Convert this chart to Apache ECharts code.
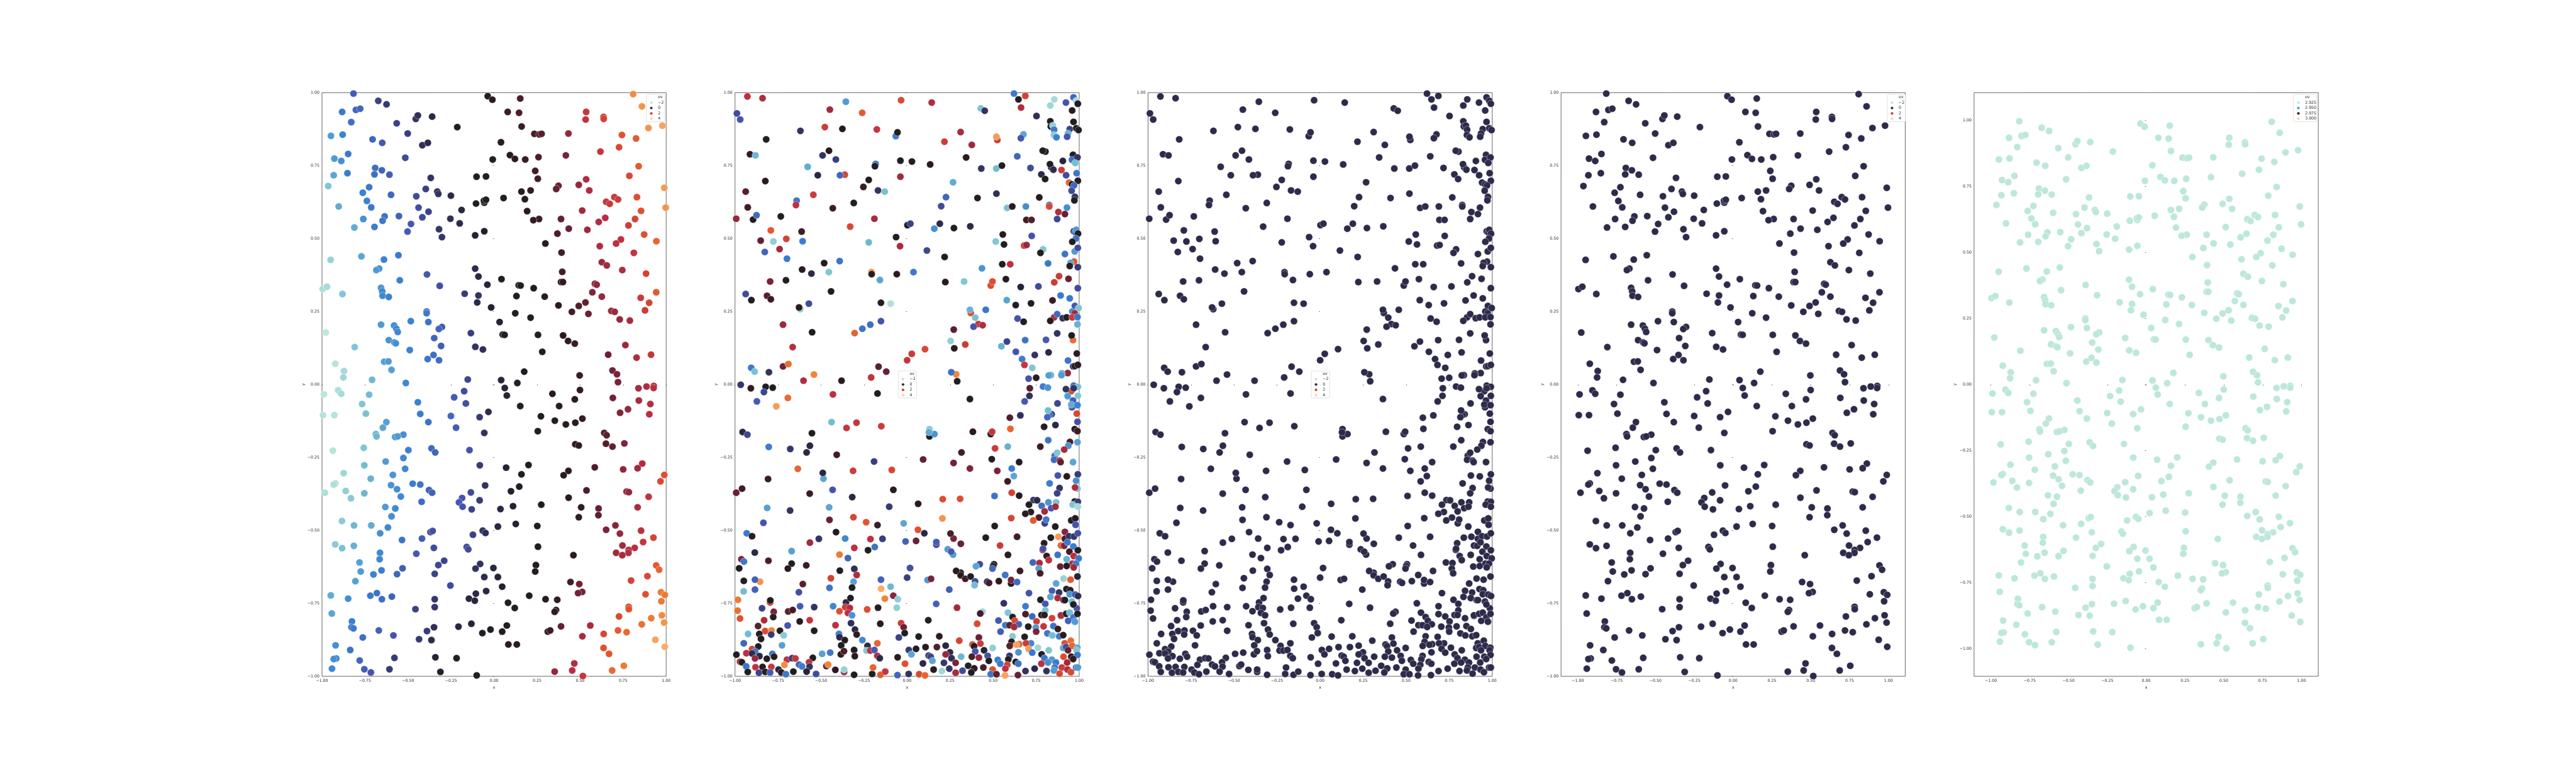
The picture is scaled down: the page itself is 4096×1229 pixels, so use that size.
<!DOCTYPE html>
<html><head><meta charset="utf-8">
<style>html,body{margin:0;padding:0;background:#fff}#main{width:4096px;height:1229px}</style>
<script src="https://cdn.jsdelivr.net/npm/echarts@6/dist/echarts.min.js"></script>
</head><body><div id="main"></div>
<script>
// [x, y, ov] read from the first, fourth and fifth panels
const pointsA = [
[-.817,.997,-.6],[-.673,.972,-.3],[-.625,.96,-.2],[-.883,.934,-.9],[-.803,.941,-.7],[-.778,.945,-.7],[-.83,.899,-.8],[-.566,.895,-.3],[-.455,.91,-.1],[-.443,.922,-.05],[-.36,.918,.1],[-.214,.882,.5],[-.948,.852,-1.2],[-.88,.856,-1],[-.706,.84,-.7],[-.65,.828,-.55],[-.502,.86,-.25],[-.417,.82,-.05],[-.385,.828,0],[-.848,.79,-.9],[-.928,.774,-1.2],[-.888,.766,-1.1],[-.516,.777,-.4],[-.691,.742,-.8],[-.652,.734,-.7],[-.852,.724,-.95],[-.932,.717,-1.3],[-.695,.72,-.8],[-.608,.719,-.6],[-.368,.708,-.1],[-.964,.68,-1.6],[-.726,.676,-.9],[-.763,.657,-1],[-.397,.67,-.25],[-.33,.661,-.05],[-.324,.653,-.1],[-.599,.65,-.7],[-.452,.645,-.4],[-.251,.647,.05],[-.739,.629,-1],[-.714,.607,-.9],[-.903,.61,-1.35],[-.439,.606,-.45],[-.381,.592,-.3],[-.189,.598,.15],[-.636,.576,-.85],[-.553,.577,-.65],[-.417,.573,-.4],[-.254,.568,-.05],[-.76,.567,-1.1],[-.648,.561,-.9],[-.2,.552,.05],[-.483,.55,-.55],[-.812,.538,-1.35],[-.695,.54,-.95],[-.503,.524,-.6],[-.32,.532,-.15],[-.303,.505,-.15],[-.556,.443,-.9],[-.771,.439,-1.3],[-.95,.427,-1.75],[-.64,.428,-1],[-.668,.397,-1.1],[-.684,.392,-1.2],[-.39,.377,-.55],[-.548,.357,-1],[-.996,.327,-1.9],[-.971,.335,-1.85],[-.657,.331,-1.15],[-.316,.338,-.45],[-.65,.319,-1.05],[-.648,.304,-1.05],[-.612,.3,-1],[-.881,.31,-1.6],[-.171,.311,-.2],[-.091,.305,-.1],[-.11,.397,0],[-.091,.37,.1],[-.039,.342,.2],
[-.037,.988,.9],[-.01,.976,.9],[.152,.98,1.2],[.079,.934,1.1],[.145,.931,1.2],[.16,.884,1.1],[.234,.859,1.2],[.263,.857,1.25],[.276,.859,1.3],[.432,.86,1.7],[.04,.83,.8],[.092,.786,.9],[.121,.773,.95],[.181,.771,1.1],[.258,.779,1.2],[.417,.785,1.5],[-.008,.771,.75],[-.102,.712,.5],[-.047,.713,.6],[.239,.732,1.15],[.254,.705,1.15],[.535,.934,2.1],[.532,.908,2.05],[.636,.917,2.3],[.637,.91,2.3],[.808,.995,3.1],[.859,.953,3.2],[.897,.879,3.2],[.978,.887,3.4],[.743,.855,2.5],[.825,.843,2.6],[.726,.813,2.4],[.618,.798,2.1],[.84,.748,2.6],[.786,.715,2.4],[.535,.703,1.9],[.492,.684,1.7],[.374,.681,1.4],[.361,.67,1.35],[.553,.665,1.9],[.159,.661,.95],[.212,.665,1.05],[.179,.635,.9],[.989,.674,3.3],[.83,.642,2.45],[.699,.642,2.15],[.72,.634,2.2],[.651,.626,2.1],[.672,.619,2.15],[.997,.606,3.2],[-.105,.62,.45],[-.057,.623,.5],[-.059,.63,.5],[-.047,.633,.5],[.055,.639,.65],[.192,.594,.95],[.512,.596,1.8],[.854,.595,2.5],[.389,.567,1.35],[.261,.567,1.1],[.228,.563,1.05],[.819,.567,2.3],[.646,.571,1.95],[.608,.557,1.9],[.781,.545,2.2],[-.057,.525,.4],[.434,.534,1.4],[.542,.53,1.75],[.368,.517,1.2],[-.11,.511,.3],[.872,.514,2.5],[.737,.497,2],[.709,.483,2],[.943,.491,2.7],[.298,.483,1],[.614,.474,1.9],[.392,.452,1.15],[.812,.451,2.05],[.626,.419,1.75],[.655,.408,1.8],[.745,.392,1.9],[.396,.386,1.15],[.883,.38,2.3],[.043,.361,.55],[.389,.351,1.05],[.4,.351,1.05],[.143,.34,.7],[.154,.339,.7],[.23,.33,.8],[.586,.345,1.6],[.596,.342,1.65],[.942,.316,2.6],[.571,.316,1.55],[.294,.301,.85],[.13,.303,.65],[.626,.301,1.7],[.852,.297,2.15],[-.098,.281,.05],[.531,.281,1.35],[.901,.28,2.3],[-.017,.264,.35],[.374,.271,1],[.492,.269,1.25],[.877,.254,2.2],[.681,.252,1.75],[.701,.249,1.75],[.452,.249,1.15],[.548,.242,1.4],[.123,.244,.6],[.212,.229,.75],[.73,.223,1.7],[.789,.219,1.85],[.032,.214,.3],[-.135,.176,-.25],[.05,.171,.4],[.061,.17,.45],[.255,.17,.75],[.401,.168,1],[.43,.149,1.05],[.469,.14,1.1],[.763,.135,1.75],[-.109,.129,-.1],[-.065,.12,-.05],[.28,.112,.75],[.663,.102,1.4],[.912,.102,2.1],[.828,.092,1.9],[.175,.044,.55],[.688,.048,1.45],[.714,.035,1.5],[.497,.031,1.1],[-.153,.017,-.35],[.041,.015,.2],[.135,.005,.45],[.72,.008,1.5],[.928,-.005,1.95],[.927,-.012,1.95],[.886,-.007,1.9],[.839,-.013,1.85],[.499,-.019,1.05],[-.174,-.023,-.4],[.062,-.012,.25],[.074,-.038,.3],[.339,-.032,.9],[-.232,-.044,-.6],[-.164,-.065,-.45],[.69,-.046,1.45],[.469,-.051,1],[.841,-.055,1.85],[.908,-.067,1.95],[.378,-.074,.9],[.152,-.074,.45],[.778,-.085,1.7],[.732,-.097,1.55],[-.033,-.094,0],[-.084,-.112,-.2],[-.251,-.108,-.7],[.902,-.102,1.95],[.272,-.109,.6],[.353,-.124,.8],[.513,-.117,1.05],[.417,-.137,.9],[.472,-.131,1],[-.221,-.148,-.6],[.254,-.16,.6],[-.057,-.166,-.1],[.64,-.166,1.3],[.654,-.174,1.3],[.65,-.203,1.25],[.688,-.213,1.35],[.757,-.202,1.55],[.472,-.205,1],[.492,-.209,1.05],[-.143,-.225,-.5],[.2,-.276,.65],[-.083,-.277,-.2],[.07,-.285,.3],[.861,-.271,1.9],[.585,-.284,1.2],[.75,-.291,1.65],[.834,-.287,1.8],[.432,-.296,.95],[.404,-.311,.95],[.989,-.31,2.5],[.159,-.308,.5],[.967,-.332,2.4],[-.052,-.346,-.1],[.146,-.35,.45],[-.135,-.37,-.4],[.098,-.366,.35],[.537,-.363,1.2],[.77,-.367,1.7],[.783,-.369,1.7],[.898,-.385,2.05],[.433,-.388,.9],[-.186,-.389,-.5],[-.084,-.397,-.2],[-.204,-.404,-.55],[-.183,-.419,-.5],[.11,-.417,.35],[.274,-.412,.7],[-.13,-.428,-.3],[.037,-.427,.15],[.506,-.421,1.05],[.607,-.425,1.35],[.834,-.421,1.85],[.492,-.455,1.05],[.606,-.448,1.3],[.126,-.478,.35],[.251,-.485,.55],[.022,-.487,.15],[.705,-.483,1.6],[-.066,-.501,-.1],[-.05,-.509,-.05],[.854,-.501,2],[.651,-.498,1.5],[.731,-.511,1.7],[-.123,-.515,-.3],[.866,-.54,2.1],[.926,-.525,2.3],[.255,-.556,.55],[.817,-.56,1.95],[.746,-.552,1.8],[-.159,-.557,-.4],[-.15,-.565,-.4],[.782,-.567,1.95],[.781,-.577,1.95],[.709,-.577,1.8],[.745,-.585,1.85],[.461,-.585,.95],[.942,-.62,2.6],[.959,-.635,2.7],[.243,-.619,.6],[-.081,-.615,-.1],[-.108,-.631,-.1],[-.004,-.629,.15],[.239,-.641,.6],[-.057,-.66,0],[.022,-.66,.25],[.891,-.657,2.4],[.495,-.684,1.45],[.444,-.677,1.15],[.796,-.672,2.3],[.047,-.693,.35],[-.254,-.689,-.4],[-.046,-.708,.1],[-.106,-.717,.05],[.88,-.719,2.5],[.512,-.711,1.45],[.488,-.715,1.45],[.97,-.712,2.9],[.992,-.721,2.9],[.204,-.724,.8],[.299,-.736,.95],[.367,-.738,1.05],[-.146,-.734,.15],[-.112,-.741,.15],[.081,-.748,.5],[.972,-.743,2.9],[-.345,-.736,-.15],[.12,-.766,.6],[.782,-.762,2.5],[.783,-.77,2.5],[-.345,-.763,-.15],[-.457,-.77,-.3],[.36,-.773,1.05],[.352,-.779,1.05],[.975,-.791,3.1],[.726,-.795,2.4],[.913,-.801,2.9],[.988,-.816,3.2],[-.132,-.82,.25],[.074,-.826,.7],[.858,-.822,2.8],[.559,-.826,1.85],[.389,-.829,1.35],[-.349,-.832,-.05],[-.207,-.83,.15],[.312,-.847,1.1],[.326,-.843,1.1],[.047,-.847,.7],[-.021,-.84,.55],[-.068,-.852,.45],[.72,-.843,2.6],[.77,-.849,2.75],[.637,-.855,2.35],[.513,-.863,1.85],[.937,-.875,3.4],[-.436,-.873,-.2],[-.364,-.876,0],[-.39,-.845,-.2],[-.585,-.86,-.5],[.083,-.891,.85],[.132,-.891,.95],[.636,-.903,2.5],[.668,-.923,2.55],[.992,-.899,3.5],[-.836,-.91,-.85],[-.341,-.935,.3],[-.218,-.938,.45],[-.579,-.937,-.2],[.466,-.956,1.9],[.454,-.98,1.95],[.352,-.984,1.7],[.686,-.98,2.75],[.754,-.964,2.9],[.516,-.999,2.1],[-.101,-.997,.7],[-.312,-.985,.4],[-.608,-.976,-.2],
[-.392,.25,-.9],[-.392,.244,-.9],[-.382,.214,-.85],[-.484,.217,-1],[-.657,.205,-1.2],[-.581,.202,-1.1],[-.568,.191,-1.05],[-.56,.18,-1.05],[-.303,.197,-.55],[-.321,.19,-.7],[-.348,.159,-.7],[-.978,.178,-2],[-.612,.152,-1.15],[-.579,.144,-1.1],[-.571,.141,-1.1],[-.81,.128,-1.6],[-.308,.132,-.6],[-.49,.118,-1],[-.352,.101,-.8],[-.386,.087,-.85],[-.32,.083,-.75],[-.639,.078,-1.25],[-.614,.079,-1.2],[-.923,.071,-1.95],[-.872,.046,-1.85],[-.596,.05,-1.25],[-.876,.024,-1.8],[-.709,.016,-1.45],[-.513,.005,-1.05],[-.906,-.02,-1.9],[-.989,-.034,-2],[-.888,-.032,-1.85],[-.726,-.035,-1.5],[-.443,-.061,-1],[-.767,-.067,-1.6],[-.994,-.105,-1.95],[-.928,-.105,-1.95],[-.745,-.1,-1.55],[-.429,-.101,-.95],[-.382,-.129,-.85],[-.626,-.129,-1.25],[-.646,-.148,-1.3],[-.687,-.17,-1.45],[-.683,-.178,-1.45],[-.527,-.172,-1.1],[-.575,-.18,-1.2],[-.56,-.178,-1.2],[-.757,-.217,-1.6],[-.498,-.225,-1],[-.937,-.227,-1.95],[-.364,-.219,-.75],[-.342,-.233,-.7],[-.527,-.252,-1.05],[-.63,-.264,-1.2],[-.754,-.277,-1.5],[-.517,-.289,-1.05],[-.874,-.304,-1.8],[-.588,-.31,-1.15],[-.717,-.323,-1.4],[-.923,-.339,-1.9],[-.932,-.343,-1.9],[-.473,-.34,-.95],[-.429,-.343,-.85],[-.599,-.345,-1.15],[-.564,-.359,-1.1],[-.378,-.362,-.65],[-.36,-.371,-.65],[-.983,-.371,-1.9],[-.862,-.365,-1.7],[-.754,-.373,-1.45],[-.542,-.384,-1.05],[-.832,-.39,-1.65],[-.421,-.402,-.75],[-.632,-.42,-1.2],[-.574,-.425,-1.05],[-.596,-.452,-1.1],[-.884,-.468,-1.65],[-.814,-.483,-1.45],[-.714,-.483,-1.35],[-.617,-.49,-1.05],[-.662,-.51,-1.1],[-.37,-.506,-.5],[-.357,-.502,-.45],[-.535,-.533,-.85],[-.419,-.528,-.6],[-.923,-.548,-1.65],[-.815,-.553,-1.4],[-.883,-.561,-1.55],[-.35,-.56,-.4],[-.663,-.577,-1.05],[-.452,-.58,-.55],[-.665,-.599,-1.05],[-.782,-.61,-1.25],[-.29,-.604,-.3],[-.324,-.619,-.35],[-.654,-.637,-.95],[-.775,-.641,-1.2],[-.532,-.63,-.6],[-.564,-.65,-.7],[-.345,-.649,-.3],[-.701,-.651,-1],[-.806,-.674,-1.25],[-.949,-.723,-1.35],[-.681,-.715,-.85],[-.719,-.724,-.9],[-.594,-.727,-.65],[-.652,-.736,-.8],[-.848,-.734,-1.1],[-.943,-.785,-1.3],[-.826,-.812,-.95],[-.829,-.832,-.95],[-.817,-.836,-.9],[-.67,-.843,-.65],[-.763,-.867,-.8],[-.921,-.894,-1.1],[-.917,-.939,-1.05],[-.932,-.941,-1.1],[-.781,-.946,-.7],[-.942,-.974,-1.05],[-.754,-.976,-.6],[-.716,-.987,-.5]
];
// [x, y, ov]
const pointsB = [
[.621,.997,-.9],[.687,.989,2.3],[.647,.977,.7],[.662,.949,1.9],[-.928,.987,2],[-.84,.981,1.9],[-.356,.969,-1.2],[-.035,.974,2.4],[.143,.966,1.9],[-.989,.929,-.4],[-.97,.908,-.5],[-.449,.942,1.8],[-.261,.931,2.6],[.428,.946,-1.6],[.451,.938,-.1],[.855,.977,-1.85],[.832,.956,-1.8],[.967,.984,-.7],[.983,.972,-1.85],[.992,.962,.6],[.923,.966,-.5],[.959,.939,.9],[.752,.92,-.05],[.832,.902,.5],[.967,.9,.5],[.835,.884,.5],[.847,.887,-1.7],[.854,.873,-.9],[.853,.855,-1.65],[.868,.847,-1],[.945,.875,-.3],[.983,.878,.5],[.996,.872,.7],[.676,.857,-1.3],[.661,.844,-.55],[.935,.86,-1.4],[.93,.849,-.5],[-.62,.869,-.1],[-.478,.882,2.2],[-.376,.876,.8],[-.176,.874,2.1],[-.066,.851,-.95],[-.056,.864,.6],[.311,.865,1.85],[-.819,.84,.6],[.217,.832,2.2],[.376,.821,1.75],[.524,.838,2.2],[.519,.849,3.3],[-.913,.789,1.05],[-.881,.785,-1.45],[-.454,.801,1],[-.491,.785,-.1],[-.414,.771,-.25],[.343,.778,.85],[.804,.798,.8],[.788,.801,.55],[.64,.782,-.7],[.964,.787,.5],[.958,.77,-.8],[.99,.778,-.1],[.977,.759,-1.5],[-.039,.767,.9],[.028,.764,.9],[.134,.754,1],[-.578,.746,-1.35],[-.183,.756,-.9],[-.187,.748,.6],[-.519,.717,.1],[-.362,.719,2.35],[-.39,.717,-.7],[.431,.74,-.1],[.518,.74,-1.5],[.551,.75,.55],[.717,.742,-.4],[.78,.72,.05],[.905,.766,.25],[.837,.744,1.2],[.83,.755,.5],[.85,.736,0],[.897,.735,2.2],[.985,.724,-.85],[.924,.717,-.4],[-.824,.697,1],[-.039,.712,1.8],[-.223,.701,.6],[.802,.704,.7],[.267,.693,-1.35],[.992,.698,.6],[.941,.692,2.7],[.958,.686,.5],[.97,.682,-.7],[-.254,.677,1.1],[-.938,.661,1.3],[-.169,.665,-.1],[-.13,.661,-1.55],[.956,.664,-.4],[-.642,.63,-.85],[-.545,.65,2.2],[.409,.639,.9],[.768,.641,1],[.519,.654,-.05],[.226,.642,-.7],[.975,.643,-.1],[.972,.631,.5],[-.926,.607,1.15],[-.646,.615,2],[-.31,.622,.55],[-.432,.604,1.1],[.198,.611,-.4],[.581,.605,-1.55],[.611,.61,.85],[.69,.61,-1.1],[.826,.615,-.85],[.826,.61,2.4],[.929,.606,-1.1],[.879,.591,1.9],[.917,.584,1.4],[-.993,.568,1.7],[-.895,.565,.6],[-.875,.58,-.75],[-.734,.576,.7],[-.19,.568,1.85],[.693,.564,1.15],[.723,.564,1.25],[.872,.567,-.35],[-.331,.541,2.4],[-.613,.524,1.1],[-.792,.528,2.6],[.002,.546,.55],[.019,.551,-.3],[.158,.534,-1.1],[.19,.551,.05],[.272,.536,.6],[.367,.542,.05],[.556,.514,.95],[.968,.525,-.4],[.978,.521,-.85],[.983,.53,-1.2],[.993,.517,.6],[.724,.509,-.5],[-.851,.493,1.35],[-.777,.49,-1.7],[-.702,.499,2.3],[-.607,.491,-.95],[-.223,.487,-1.45],[-.064,.505,.55],[.515,.49,-1.6],[.563,.48,.6],[.981,.5,-.8],[.96,.489,.5],[-.741,.464,1.8],[-.827,.454,-.7],[-.041,.474,1.85],[.115,.459,-.35],[.68,.476,2.2],[.694,.478,1.75],[.79,.463,-1.6],[.775,.451,.7],[.974,.456,-1.2],[.992,.468,-.4],[-.698,.431,-.9],[.917,.447,-.85],[.218,.437,.6],[-.482,.416,.55],[-.392,.423,-.85],[.599,.412,2],[.553,.412,.55],[.819,.415,-.9],[.97,.421,2.5],[.95,.417,-1.3],[.945,.406,.85],[.992,.402,-.2],[-.61,.394,.95],[.435,.398,-1.15],[.037,.385,-.9],[-.455,.385,-1.6],[-.207,.385,3.2],[-.206,.378,1],[-.556,.38,.05],[-.06,.378,1],[-.796,.353,1.5],[-.704,.357,.6],[-.158,.358,-1.3],[.331,.353,-1.6],[.574,.361,.5],[.486,.339,2.45],[.496,.353,2.45],[.222,.351,.9],[.855,.35,2.2],[.938,.362,1.4],[.883,.371,2.2],[.66,.334,.3],[.763,.336,-.4],[.992,.33,-.4],[-.938,.31,-.4],[-.905,.289,.55],[-.442,.319,.55],[-.814,.304,1.3],[-.792,.292,1.1],[.892,.305,-.9],[.945,.295,-.9],[.579,.289,-1.3],[.845,.288,1.1],[-.096,.277,-1.9],[-.152,.28,.9],[.72,.278,.55],[.631,.272,.55],[-.571,.277,-.4],[.975,.269,-.5],[.997,.262,-1.6],[-.621,.258,-1.7],[-.628,.264,1],[.37,.245,2.45],[.365,.256,-1.4],[.457,.256,-.85],[.96,.25,-1.1],[.974,.244,1.8],[.854,.23,1.85],[.872,.241,-.75],[.904,.227,-.1],[.927,.23,.55],[.96,.23,2.2],[.99,.231,-.85],[.396,.229,-1.55],[.642,.226,-.5],[.832,.218,.9],[.677,.215,.55],[-.721,.205,1.75],[-.214,.205,-.8],[-.152,.217,-.5],[-.26,.191,-.85],[.414,.207,2.1],[.439,.203,1.9],[.386,.198,-.5],[.99,.206,-1.4],[.872,.175,-.1],[.271,.188,1.3],[-.552,.179,.55],[-.305,.176,2.65],[-.665,.128,1.95],[.253,.149,-1.7],[.274,.124,.8],[.338,.137,2.2],[.686,.152,-.85],[.807,.153,-.55],[.964,.152,2.8],[.956,.168,.5],[.58,.147,-.3],[.548,.131,-1.4],[.104,.121,2.4],[.027,.105,2.2],[0,.083,2.1],[.632,.112,-.5],[.822,.11,.1],[.986,.106,.95],[.742,.101,-.1],[.668,.087,-.95],[.935,.082,-.85],[.682,.067,2.1],[.727,.057,-1.6],[-.166,.061,1.3],[-.121,.044,1.4],[-.721,.062,1.45],[-.69,.07,2.8],[-.906,.057,-.9],[-.886,.044,-1.55],[-.803,.042,-.1],[-.541,.034,3],[.285,.035,3],[.257,.042,-.8],[.965,.062,-.2],[.975,.063,.5],[.992,.067,.9],[.933,.039,1.7],[.899,.038,-1.3],[.897,.032,-1.2],[.835,.032,-1.4],[.823,.031,-1.25],[.706,.02,-.5],[.75,.023,.9],[.713,-.013,1.3],[-.967,-.001,-.15],[-.908,-.013,1.05],[-.822,-.008,.6],[-.781,-.011,.7],[-.832,-.026,-.35],[-.602,.013,1.9],[-.381,.013,.95],[-.209,.024,2.05],[.291,.011,.55],[.79,-.007,-.95],[.818,-.011,-1.15],[.954,-.023,2.4],[.968,-.004,-.85],[.992,-.008,-1.5],[.923,-.016,-.1],[.968,-.013,-.1],[-.873,-.058,-.6],[-.693,-.046,2.75],[-.76,-.075,3.3],[-.431,-.034,2],[-.172,-.031,.5],[.365,-.05,.55],[.711,-.039,-.05],[.683,-.058,-.55],[.933,-.04,-1.2],[.964,-.055,-.6],[.992,-.039,-1.6],[.874,-.065,-.35],[.958,-.078,-.5],[.954,-.069,-1.35],[.99,-.071,-1],[.986,-.1,2.4],[.84,-.102,-.2],[.828,-.104,-.8],[.815,-.112,-.7],[.819,-.089,-1.5],[.658,-.106,-.05],[.597,-.114,1.25],[-.439,-.129,-1.5],[-.294,-.131,2.1],[-.352,-.149,2.1],[-.15,-.143,2.2],[.13,-.178,.6],[.13,-.153,-1.65],[.159,-.17,-1.15],[.127,-.164,-1.35],[.796,-.145,.85],[.862,-.139,.1],[.99,-.128,-.45],[.6,-.152,2.7],[.486,-.17,.6],[.494,-.162,2.1],[.382,-.162,.95],[.974,-.153,.9],[.99,-.16,1.1],[-.956,-.163,.1],[-.928,-.172,-.35],[-.553,-.167,.5],[.82,-.191,-.85],[.946,-.197,1.2],[.937,-.21,-1.15],[.99,-.198,-1.25],[.913,-.223,1.85],[-.804,-.214,-.95],[-.679,-.221,-.15],[-.565,-.21,.1],[-.584,-.233,.1],[-.409,-.241,1.15],[.585,-.213,-1.4],[.774,-.213,1.1],[.511,-.219,2.2],[.316,-.233,1.15],[.858,-.244,-.8],[.872,-.234,-1.6],[.093,-.257,1.35],[.492,-.256,.5],[.651,-.266,.55],[.854,-.258,-.75],[.887,-.261,1.8],[.892,-.266,1.35],[-.192,-.264,-.25],[.27,-.269,1.45],[.964,-.266,-1.3],[.365,-.288,1.55],[-.635,-.289,2.7],[-.314,-.296,2.2],[-.089,-.293,2.35],[.608,-.288,-.95],[.524,-.296,1.5],[-.486,-.323,-1.3],[-.49,-.303,.1],[-.808,-.324,1.1],[.62,-.314,-1.3],[.584,-.332,1.1],[.876,-.312,-.5],[.928,-.315,1],[.992,-.308,-.2],[.982,-.33,-1.1],[.828,-.339,-.95],[-.959,-.357,1.15],[-.993,-.371,1.4],[-.433,-.361,-.5],[-.08,-.361,.95],[.886,-.355,-.1],[.99,-.357,-1.6],[.976,-.353,1.9],[.872,-.373,-.3],[.608,-.371,2.3],[.651,-.381,.5],[-.566,-.374,1.1],[-.319,-.386,.15],[.508,-.382,-.85],[.064,-.409,1],[.207,-.393,2.45],[.308,-.392,2.45],[.734,-.396,-.2],[.755,-.397,.05],[.866,-.404,-1.55],[.821,-.404,-1.15],[.974,-.401,.5],[.992,-.402,-.2],[.962,-.412,-1.6],[.992,-.419,-1.85],[.708,-.412,.55],[.782,-.416,-.8],[.837,-.424,-.55],[.862,-.419,1.8],[.799,-.435,1.8],[-.453,-.421,-1.3],[-.813,-.423,-1.25],[-.68,-.432,-.1],[-.104,-.419,-.2],[.719,-.437,.45],[.687,-.443,.9],[.766,-.456,1.2],[.605,-.458,2.35],[.205,-.459,3.2],[-.312,-.455,2.35],[.8,-.476,-.25],[.808,-.463,-.95],[.733,-.466,2.6],[-.451,-.464,1.4],[-.835,-.474,-.5],[-.02,-.476,-1.3],[-.238,-.472,2.55],[-.172,-.482,1.1],[.509,-.485,.5],[.861,-.487,.5],[.954,-.466,.6],[.977,-.459,.7],[.979,-.481,-.5],[.917,-.505,1.6],[.1,-.51,.1],[.27,-.528,1.5],[.252,-.511,1.2],[-.932,-.51,-.9],[-.901,-.52,.95],[-.513,-.529,-.1],[-.413,-.506,.55],[-.36,-.528,-1.05],[-.213,-.53,2],[-.143,-.529,-.25],[.063,-.498,2.5],[.457,-.525,.5],[.639,-.522,1.15],[.835,-.525,.45],[.879,-.522,3.3],[.917,-.529,1.2],[.941,-.52,-.1],[.97,-.521,-.15],[.992,-.51,-.45],[.052,-.536,1.4],[-.009,-.538,-.65],[.17,-.549,-.4],[.17,-.54,-.6],[-.565,-.542,1.8],[-.188,-.557,-.85],[-.307,-.56,2],[.312,-.546,1.4],[.54,-.552,2.2],[.894,-.552,2.7],[.913,-.553,1.55],[.932,-.541,-.9],[.796,-.544,.9],[.966,-.555,-.95],[-.227,-.568,.55],[.236,-.565,-1.2],[.267,-.583,-1.2],[.256,-.573,-.55],[.788,-.567,1.85],[.79,-.563,-.45],[.943,-.573,1.15],[.992,-.568,.55],[-.671,-.571,-1.25],[-.885,-.576,.1],[.586,-.584,.95],[.875,-.584,-.85],[.811,-.588,.9],[-.393,-.583,2.9],[-.344,-.595,-.7],[.968,-.588,2],[.927,-.599,-1.4],[.823,-.602,2],[.997,-.596,-.9],[-.963,-.599,1.6],[-.948,-.607,-.9],[-.806,-.604,1.2],[.96,-.614,1.9],[.981,-.614,-.9],[.731,-.61,-.7],[.769,-.612,1.85],[.422,-.616,-.4],[.4,-.623,-1.3],[.505,-.616,.7],[.5,-.622,.7],[.496,-.631,-.7],[-.671,-.614,.55],[-.586,-.62,1.1],[-.693,-.631,.9],[-.976,-.63,.55],[-.307,-.632,-.05],[-.391,-.638,.55],[.017,-.629,-.45],[-.293,-.653,1.9],[.765,-.631,-1.25],[.89,-.624,1.35],[.927,-.622,.8],[.968,-.627,1.75],[.99,-.658,.3],[.311,-.645,.6],[.285,-.639,.85],[.656,-.639,1.1],[.311,-.654,1],[.338,-.666,1.15],[.369,-.658,.55],[.57,-.653,-.85],[.773,-.647,1.15],[0,-.662,-.25],[-.443,-.664,2.3],[-.949,-.673,.55],[-.855,-.676,3.2],[-.884,-.669,-.65],[-.152,-.669,-.65],[.119,-.67,-1.15],[.139,-.666,1.5],[.395,-.675,-.4],[.465,-.676,-.1],[.476,-.68,1.15],[.533,-.674,1],[.604,-.682,.5],[.604,-.67,1.5],[.639,-.677,-.75],[.909,-.665,-1.75],[.95,-.669,2.6],[-.606,-.684,1.3],[-.311,-.676,-1.25],[.392,-.688,-1.5],[.866,-.682,-1.3],[-.096,-.693,-1.45],[-.151,-.7,3.5],[.245,-.703,-.6],[-.32,-.696,.55],[-.884,-.703,-.65],[-.451,-.697,-.85],[-.95,-.709,-1.5],[.842,-.707,-.6],[.708,-.715,-.5],[.883,-.713,-.1],[.926,-.701,.5],[.948,-.705,.45],[.945,-.719,-1.15],[.977,-.72,-.55],[.993,-.725,0],[-.629,-.712,-.45],[-.08,-.724,1.6],[-.129,-.734,3],[-.054,-.736,-1.7],[-.983,-.738,2.9],[-.985,-.775,2.8],[-.971,-.802,2.5],[-.796,-.747,2.2],[-.795,-.74,.55],[-.355,-.747,0],[-.329,-.732,.5],[.775,-.738,.5],[.833,-.728,-1.3],[.875,-.732,1.9],[.909,-.739,1.3],[.917,-.739,.5],[.958,-.744,-1.5],[.169,-.752,-.65],[.562,-.75,-.1],[.803,-.752,-.55],[.688,-.76,-.95],[.986,-.767,-.5],[.966,-.754,.45],[-.843,-.767,-.3],[-.622,-.76,-.6],[-.54,-.763,-.1],[-.43,-.76,-1.05],[-.359,-.763,2.2],[-.333,-.766,1.9],[-.232,-.771,2.45],[-.169,-.765,.5],[-.06,-.765,-1.7],[.29,-.765,1.8],[.803,-.774,-1.55],[.438,-.779,-1.8],[.425,-.785,1.15],[-.393,-.777,2.5],[-.344,-.783,2],[.586,-.782,-1.6],[.613,-.797,.5],[.688,-.787,1.2],[.781,-.79,.5],[.798,-.79,1.05],[.894,-.793,-.55],[.894,-.791,1.85],[.924,-.786,.4],[.945,-.782,-1.5],[.966,-.798,-.9],[.99,-.786,.55],[-.775,-.779,1.5],[-.691,-.778,1.3],[-.665,-.773,1.15],[-.778,-.797,.6],[-.32,-.791,-1.15],[-.831,-.808,1.85],[-.566,-.808,2.1],[-.624,-.812,.6],[.123,-.808,.85],[.531,-.809,-.55],[.842,-.801,2.3],[.727,-.795,-.7],[.752,-.812,2.2],[.626,-.81,2.4],[.936,-.81,-.65],[.975,-.813,-1.2],[-.156,-.82,.9],[-.035,-.818,2.2],[.407,-.82,2.4],[-.866,-.828,1.3],[-.694,-.826,-.5],[-.326,-.818,-.05],[-.416,-.825,2],[.571,-.825,-.9],[.595,-.825,1.3],[.649,-.822,-.65],[.704,-.83,.55],[.748,-.833,-1.2],[.793,-.829,2.1],[.85,-.828,-.85],[.876,-.838,1.1],[.622,-.831,1.8],[-.02,-.832,1.4],[-.825,-.845,2.4],[-.788,-.843,3],[-.739,-.844,.9],[-.54,-.844,.5],[-.303,-.84,.1],[-.014,-.852,.5],[.543,-.847,-.6],[.75,-.847,1.5],[.815,-.853,-.9],[.844,-.86,-1.5],[.884,-.863,-.95],[.907,-.859,.85],[-.924,-.855,-1.5],[-.859,-.855,1],[-.79,-.857,-.2],[-.717,-.86,-1.65],[-.293,-.857,1.05],[-.396,-.855,-.95],[-.393,-.866,0],[.613,-.863,-1.65],[-.048,-.867,-.3],[.067,-.864,.5],[.187,-.863,.95],[.417,-.867,1.4],[.683,-.865,.5],[-.849,-.872,.5],[-.362,-.876,.65],[-.26,-.876,-1.05],[.303,-.878,2.3],[.607,-.882,1],[-.949,-.887,-.7],[-.727,-.894,-1.25],[.72,-.887,-1.05],[.651,-.89,2.7],[.691,-.887,2.2],[.38,-.891,2.5],[.426,-.888,2.2],[.389,-.897,.9],[.916,-.887,2.5],[.951,-.878,2.8],[.635,-.892,3.4],[-.173,-.887,2.7],[-.23,-.896,.1],[-.383,-.894,.5],[-.865,-.898,.5],[.596,-.896,1.3],[.907,-.903,-1.3],[.924,-.9,-.4],[.96,-.896,2.7],[.989,-.902,-1.3],[.224,-.895,.1],[.107,-.9,.75],[.173,-.9,1.25],[.052,-.906,.6],[.01,-.91,-.2],[.497,-.903,-1.7],[.447,-.911,.3],[.396,-.915,-.5],[.706,-.906,3.3],[.76,-.902,-1.8],[.823,-.911,-1.6],[.935,-.911,1.4],[.985,-.911,-1.6],[.249,-.918,0],[-.901,-.907,2.3],[-.883,-.915,-.9],[-.934,-.921,2],[-.901,-.922,0],[-.992,-.926,.5],[-.858,-.931,.1],[-.783,-.923,-.9],[-.494,-.923,-1.25],[-.447,-.919,-.9],[-.236,-.912,-1.6],[-.214,-.912,2],[-.19,-.91,-.6],[-.308,-.91,.5],[.025,-.925,-1.3],[-.385,-.925,1.05],[-.367,-.914,1.2],[.595,-.93,-.15],[.647,-.918,-1.15],[.727,-.919,-.9],[.782,-.925,.55],[.798,-.938,-.9],[.841,-.943,-1.2],[.909,-.933,2.45],[.954,-.933,.9],[.99,-.927,-.9],[-.173,-.93,1.9],[-.159,-.938,.05],[-.055,-.935,.9],[-.815,-.94,.9],[-.773,-.933,.95],[-.884,-.939,1.75],[-.698,-.943,2.05],[-.668,-.938,-.2],[-.649,-.939,2.1],[-.548,-.937,.5],[-.304,-.931,1],[.314,-.933,-1.45],[.125,-.929,-.3],[.137,-.933,-.3],[.147,-.947,-1.3],[.224,-.925,1.75],[.258,-.938,-.05],[.376,-.933,1.2],[.417,-.936,1.7],[.468,-.93,-.45],[.475,-.947,.5],[.588,-.942,.5],[.527,-.944,-.95],[.631,-.951,.55],[-.971,-.95,1.9],[-.96,-.952,.5],[-.57,-.952,2.05],[-.713,-.961,3.1],[-.628,-.96,-.7],[-.611,-.966,-.95],[-.469,-.965,1.3],[-.459,-.96,3],[-.567,-.967,-.1],[.092,-.956,.1],[-.012,-.957,2.5],[.214,-.954,-.15],[.282,-.954,1.5],[.355,-.964,.4],[.541,-.957,-.9],[.582,-.961,2.3],[.646,-.957,-.85],[.78,-.957,2],[.819,-.953,-1.1],[.865,-.953,-.9],[.93,-.953,1.8],[.965,-.941,.9],[.982,-.97,-.9],[-.935,-.966,-.85],[-.881,-.969,2.05],[-.84,-.968,.5],[-.789,-.968,2.15],[-.747,-.977,.2],[.39,-.973,.9],[.443,-.97,1.2],[.497,-.977,2.5],[.571,-.974,2],[.688,-.982,-.1],[.741,-.974,.1],[.81,-.982,-.1],[.858,-.97,-.9],[.853,-.98,-1.2],[.899,-.97,2.2],[.932,-.977,1.9],[.992,-.97,-1.2],[-.926,-.985,.5],[-.861,-.988,-.3],[-.824,-.985,.9],[-.796,-.987,-.6],[-.731,-.987,.9],[-.704,-.993,-.9],[-.661,-.984,.5],[-.584,-.984,.3],[-.529,-.992,-.4],[-.417,-.978,.9],[-.366,-.985,1.75],[-.366,-.977,-1.75],[-.203,-.992,.5],[-.198,-.97,2.7],[-.308,-.995,.5],[-.155,-.995,2.6],[-.127,-.984,2.1],[-.056,-.996,-.7],[.009,-.992,-.1],[.07,-.993,2.4],[.104,-.997,2.7],[.154,-.977,.5],[.202,-.982,-1.8],[.245,-.974,-.1],[.282,-.988,1.85],[.322,-.981,-.4],[.373,-.987,.5],[.486,-.993,-.85],[.519,-.993,1.3],[.569,-.997,3.4],[.644,-.996,1.4],[.886,-.991,2.4],[.952,-.986,2.4]
];
const tickValues = [-1,-0.75,-0.5,-0.25,0,0.25,0.5,0.75,1];
const legendTitle = 'ov';
const legendLabelsA = ['\u22122','0','2','4'];
const legendColorsA = ['#bde7db','#2f2d52','#d3402f','#ffd0a8'];
const legendLabelsB = ['2.925','2.950','2.975','3.000'];
const legendColorsB = ['#bde7db','#4597d1','#3f1f2b','#ffd0a8'];
const ovColors = ['#bde7db','#74bdd1','#3a82d2','#4553ad','#2d2b4e','#1f1e22','#2a1b1f','#782338','#bd2f41','#e0502e','#f08437','#f9ab6b','#ffd0a8'];
const navy = '#2d2b4a', mint = '#bde7db', ink = '#262626';

const s = 4096 / 7200;
const FONT = 'DejaVu Sans', FS = 6.25;
const panelLeft = [900, 2054.4, 3208.8, 4363.2, 5517.6];
const panelW = 962, panelTop = 259, panelH = 1631;
const xLimit = [1, 1, 1, 1.108, 1.108], yLimit = [1, 1, 1, 1, 1.105];
const legendPos = [[1807,264],[2510.7,1036.7],[3665,1036.7],[5275,264],[6410.7,264]];

const fmt = v => (v < 0 ? '\u2212' : '') + Math.abs(v).toFixed(2);
function axis(i, type, idx, lim) {
  return {
    type: 'value', gridIndex: idx, min: -lim, max: lim, scale: false,
    name: type, nameLocation: 'middle', nameGap: type === 'x' ? 13.6 : 24,
    nameRotate: type === 'y' ? 90 : 0,
    nameTextStyle: {color: ink, fontFamily: FONT, fontSize: FS},
    axisLine: {show: false},
    splitLine: {show: false},
    axisTick: {show: true, length: 2, inside: false, customValues: tickValues, lineStyle: {color: ink, width: 0.6}},
    axisLabel: {show: true, margin: 4, color: ink, fontFamily: FONT, fontSize: FS, customValues: tickValues, formatter: fmt, hideOverlap: false}
  };
}
const grids = panelLeft.map(l => ({
  show: true, left: l * s, top: panelTop * s, width: panelW * s, height: panelH * s,
  borderColor: ink, borderWidth: 0.7, backgroundColor: 'transparent', containLabel: false
}));
const xAxes = xLimit.map((lim, i) => axis(i, 'x', i, lim));
const yAxes = yLimit.map((lim, i) => axis(i, 'y', i, lim));
const dotStyle = c => c ? {color: c, opacity: 1, borderColor: '#fff', borderWidth: 0.4} : {opacity: 1, borderColor: '#fff', borderWidth: 0.4};
const panelData = [pointsA, pointsB, pointsB, pointsA, pointsA];
const panelColor = [null, null, navy, navy, mint];
const series = panelData.map((d, i) => ({
  type: 'scatter', name: 'panel' + (i + 1), xAxisIndex: i, yAxisIndex: i, data: d,
  symbol: 'circle', symbolSize: 11.2, itemStyle: dotStyle(panelColor[i]),
  clip: true, silent: true, large: false, progressive: 0, animation: false
}));
// empty series that carry the legend keys
[[legendTitle, 'rgba(0,0,0,0)']].concat(
  legendLabelsA.map((n, i) => [n, legendColorsA[i]]),
  legendLabelsB.map((n, i) => [n, legendColorsB[i]])
).forEach(([n, c]) => series.push({type: 'scatter', name: n, xAxisIndex: 0, yAxisIndex: 0, data: [], itemStyle: {color: c, opacity: 1}, animation: false}));

const legends = legendPos.map((p, i) => ({
  show: true, orient: 'vertical', left: p[0] * s, top: p[1] * s,
  data: [{name: legendTitle, icon: 'none'}].concat((i === 4 ? legendLabelsB : legendLabelsA).map(n => ({name: n, icon: 'circle'}))),
  selectedMode: false, align: 'left',
  itemWidth: 11.2, itemHeight: 4.2, itemGap: 1.53,
  padding: [1, i === 4 ? 0.7 : 1.8, 1, 2],
  backgroundColor: 'rgba(255,255,255,0.8)', borderColor: '#cccccc', borderWidth: 0.6, borderRadius: 1.5,
  textStyle: {color: ink, fontFamily: FONT, fontSize: FS, lineHeight: 7}
}));

const chart = echarts.init(document.getElementById('main'), null, {renderer: 'canvas', width: 4096, height: 1229});
chart.setOption({
  animation: false, backgroundColor: '#ffffff',
  grid: grids, xAxis: xAxes, yAxis: yAxes, series, legend: legends,
  visualMap: {type: 'continuous', show: false, min: -2, max: 4, dimension: 2, seriesIndex: [0, 1], inRange: {color: ovColors}}
});
</script></body></html>
